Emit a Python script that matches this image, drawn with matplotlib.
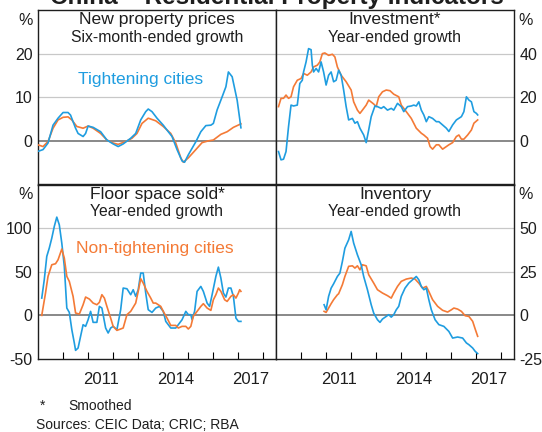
from matplotlib import pyplot as plt
import numpy as np

plt.rcParams['font.family'] = ['Liberation Sans', 'DejaVu Sans']

BLUE = '#1f9de0'
ORANGE = '#f47a36'

# New property prices, six-month-ended growth (%)
price_t_x = [2009.0, 2009.2, 2009.4, 2009.6, 2009.8, 2010.0, 2010.2, 2010.3, 2010.5, 2010.6,
             2010.8, 2010.9, 2011.0, 2011.2, 2011.5, 2011.75, 2012.0, 2012.2, 2012.4, 2012.7,
             2012.9, 2013.1, 2013.3, 2013.4, 2013.55, 2013.75, 2014.0, 2014.2, 2014.35, 2014.55,
             2014.75, 2014.85, 2015.0, 2015.3, 2015.5, 2015.7, 2015.9, 2016.0, 2016.15, 2016.35,
             2016.5, 2016.6, 2016.75, 2016.95, 2017.1]
price_t_y = [-2.4, -2.0, -0.5, 3.6, 5.2, 6.5, 6.5, 5.9, 2.9, 1.7,
             1.0, 1.7, 3.4, 3.1, 2.1, 0.2, -0.7, -1.3, -0.7, 0.6,
             1.7, 4.8, 6.7, 7.3, 6.7, 5.2, 3.6, 2.1, 1.0, -2.0,
             -4.6, -4.9, -3.2, -0.2, 2.1, 3.5, 3.6, 4.0, 7.1, 10.1,
             12.4, 15.8, 14.7, 9.3, 3.0]
price_n_x = [2009.0, 2009.2, 2009.4, 2009.6, 2009.8, 2010.0, 2010.2, 2010.35, 2010.55, 2010.8,
             2011.0, 2011.2, 2011.5, 2011.75, 2012.0, 2012.2, 2012.5, 2012.75, 2012.95, 2013.15,
             2013.4, 2013.7, 2014.0, 2014.3, 2014.5, 2014.7, 2014.8, 2015.0, 2015.3, 2015.55,
             2015.8, 2016.0, 2016.3, 2016.55, 2016.8, 2017.1]
price_n_y = [-0.9, -1.3, -0.15, 2.9, 4.8, 5.4, 5.5, 4.8, 3.3, 2.9,
             3.4, 2.9, 1.7, 0.2, -0.5, -0.8, -0.15, 0.6, 1.7, 4.0,
             5.2, 4.6, 3.3, 1.7, -0.5, -3.9, -4.9, -3.9, -2.0, -0.4,
             0.0, 0.2, 1.5, 2.1, 3.1, 3.9]

# Investment, year-ended growth (%)
inv_t_x = [2009.1, 2009.2, 2009.3, 2009.4, 2009.5, 2009.6, 2009.7, 2009.85, 2009.95, 2010.05,
           2010.1, 2010.2, 2010.3, 2010.4, 2010.45, 2010.5, 2010.6, 2010.7, 2010.8, 2010.9,
           2011.0, 2011.1, 2011.2, 2011.3, 2011.4, 2011.5, 2011.6, 2011.7, 2011.8, 2011.9,
           2012.05, 2012.15, 2012.25, 2012.35, 2012.5, 2012.6, 2012.7, 2012.8, 2012.95, 2013.05,
           2013.2, 2013.3, 2013.45, 2013.6, 2013.7, 2013.85, 2014.0, 2014.1, 2014.25, 2014.4,
           2014.5, 2014.6, 2014.7, 2014.8, 2014.9, 2015.0, 2015.1, 2015.25, 2015.4, 2015.5,
           2015.65, 2015.8, 2015.9, 2016.05, 2016.2, 2016.4, 2016.5, 2016.6, 2016.7, 2016.8,
           2016.9, 2017.0, 2017.05]
inv_t_y = [-4.9, -8.7, -8.4, -4.9, 6.5, 16.4, 16.0, 16.4, 26.3, 27.8,
           31.6, 36.2, 42.3, 41.8, 34.7, 31.6, 33.2, 31.6, 36.2, 31.6,
           25.6, 30.1, 31.6, 27.1, 27.8, 32.4, 30.1, 23.3, 15.7, 9.6,
           10.3, 8.1, 8.8, 5.8, 2.7, -0.8, 5.0, 11.1, 16.0, 15.7,
           14.9, 15.7, 14.1, 14.9, 14.1, 17.2, 15.7, 13.4, 15.7, 16.0,
           16.4, 16.0, 17.9, 14.1, 11.9, 8.8, 11.1, 10.3, 8.8, 8.8,
           7.3, 5.8, 4.3, 7.3, 9.6, 11.1, 13.4, 20.2, 18.7, 17.9,
           13.4, 12.6, 11.9]
inv_n_x = [2009.1, 2009.2, 2009.3, 2009.4, 2009.5, 2009.6, 2009.7, 2009.85, 2010.0, 2010.1,
           2010.25, 2010.4, 2010.5, 2010.65, 2010.75, 2010.85, 2010.95, 2011.1, 2011.25, 2011.35,
           2011.45, 2011.6, 2011.8, 2012.0, 2012.1, 2012.25, 2012.35, 2012.45, 2012.6, 2012.7,
           2012.9, 2013.0, 2013.1, 2013.25, 2013.4, 2013.55, 2013.7, 2013.9, 2014.0, 2014.2,
           2014.4, 2014.6, 2014.8, 2014.9, 2015.05, 2015.15, 2015.25, 2015.4, 2015.5, 2015.65,
           2015.8, 2015.9, 2016.05, 2016.2, 2016.3, 2016.4, 2016.5, 2016.65, 2016.8, 2016.9,
           2017.05]
inv_n_y = [15.7, 19.5, 19.5, 21.0, 19.5, 20.2, 24.8, 27.8, 28.6, 30.9,
           30.1, 31.6, 33.9, 34.7, 36.2, 40.0, 40.3, 39.2, 39.7, 38.5,
           33.9, 30.1, 27.1, 23.3, 17.9, 14.1, 12.6, 14.1, 16.4, 18.7,
           16.9, 15.7, 20.2, 22.5, 23.3, 23.0, 21.4, 20.2, 16.4, 13.4,
           10.3, 5.8, 3.5, 2.7, 1.2, -2.6, -3.8, -1.8, -1.8, -3.8,
           -2.6, -1.8, -0.8, 2.0, 2.7, 0.8, 0.8, 2.7, 5.0, 8.1,
           9.6]

# Floor space sold, year-ended growth (%)
floor_t_x = [2009.15, 2009.25, 2009.35, 2009.45, 2009.55, 2009.65, 2009.75, 2009.85, 2009.95, 2010.05,
             2010.15, 2010.25, 2010.35, 2010.45, 2010.5, 2010.6, 2010.7, 2010.8, 2010.9, 2011.0,
             2011.1, 2011.2, 2011.35, 2011.45, 2011.55, 2011.65, 2011.7, 2011.8, 2011.9, 2012.0,
             2012.15, 2012.3, 2012.4, 2012.55, 2012.7, 2012.8, 2012.9, 2013.0, 2013.1, 2013.2,
             2013.3, 2013.4, 2013.55, 2013.7, 2013.85, 2014.0, 2014.1, 2014.3, 2014.5, 2014.6,
             2014.75, 2014.9, 2015.0, 2015.1, 2015.15, 2015.25, 2015.35, 2015.5, 2015.6, 2015.75,
             2015.85, 2015.95, 2016.1, 2016.2, 2016.3, 2016.4, 2016.5, 2016.6, 2016.7, 2016.8,
             2016.9, 2017.0, 2017.1]
floor_t_y = [19.8, 40.8, 67.6, 77.1, 88.5, 101.9, 112.6, 103.8, 82.8, 56.1,
             8.4, 3.4, -16.4, -31.7, -40.1, -37.4, -24.0, -10.7, -12.6, -5.0,
             4.6, -8.0, -8.0, 10.3, 8.4, -6.9, -14.5, -20.2, -14.5, -12.6,
             -16.4, 6.5, 31.3, 30.5, 23.7, 29.4, 21.8, 29.4, 48.5, 48.5,
             25.6, 6.5, 3.4, 8.4, 10.3, 4.6, -6.9, -14.5, -14.5, -10.7,
             -5.0, 4.6, 0.8, 0.8, -5.0, 4.6, 27.5, 33.2, 27.5, 14.1,
             10.3, 23.7, 44.7, 55.3, 42.7, 25.6, 21.0, 31.3, 31.3, 21.8,
             -3.1, -6.9, -6.9]
floor_n_x = [2009.15, 2009.3, 2009.4, 2009.55, 2009.7, 2009.8, 2009.95, 2010.05, 2010.15, 2010.25,
             2010.4, 2010.5, 2010.65, 2010.8, 2010.9, 2011.05, 2011.2, 2011.35, 2011.45, 2011.55,
             2011.65, 2011.75, 2011.9, 2012.0, 2012.15, 2012.3, 2012.4, 2012.55, 2012.7, 2012.9,
             2013.0, 2013.1, 2013.2, 2013.35, 2013.5, 2013.6, 2013.7, 2013.9, 2014.0, 2014.15,
             2014.3, 2014.5, 2014.6, 2014.75, 2014.9, 2015.0, 2015.1, 2015.2, 2015.35, 2015.5,
             2015.6, 2015.75, 2015.9, 2016.0, 2016.1, 2016.2, 2016.3, 2016.45, 2016.55, 2016.7,
             2016.8, 2016.9, 2017.0, 2017.05, 2017.1]
floor_n_y = [0.0, 25.6, 44.7, 58.0, 59.2, 63.7, 76.0, 65.6, 44.7, 38.9,
             21.8, 2.7, 1.5, 12.2, 21.0, 18.7, 14.1, 12.2, 14.9, 23.7,
             19.8, 10.3, -3.1, -12.6, -17.2, -15.6, -14.5, 0.8, 4.6, 14.1,
             27.5, 42.0, 37.0, 27.5, 19.8, 14.1, 14.1, 10.3, 4.6, -3.1,
             -11.5, -11.5, -14.5, -12.6, -12.6, -15.6, -12.6, -1.1, 4.6, 10.3,
             13.4, 8.4, 5.7, 17.9, 23.7, 31.3, 27.5, 17.9, 16.0, 21.8,
             23.7, 19.8, 25.6, 29.4, 27.5]

# Inventory, year-ended growth (%)
stock_t_x = [2010.92, 2011.0, 2011.1, 2011.2, 2011.3, 2011.45, 2011.55, 2011.65, 2011.75, 2011.9,
             2012.0, 2012.1, 2012.25, 2012.4, 2012.5, 2012.65, 2012.8, 2012.9, 2013.05, 2013.15,
             2013.25, 2013.4, 2013.5, 2013.6, 2013.7, 2013.8, 2013.9, 2014.0, 2014.15, 2014.3,
             2014.45, 2014.6, 2014.7, 2014.8, 2014.9, 2015.0, 2015.1, 2015.2, 2015.35, 2015.5,
             2015.7, 2015.9, 2016.05, 2016.25, 2016.45, 2016.6, 2016.7, 2016.85, 2016.95, 2017.05]
stock_t_y = [6.1, 3.2, 10.9, 15.6, 18.1, 22.3, 24.2, 30.9, 38.5, 43.3,
             48.1, 41.4, 34.7, 29.0, 22.3, 14.7, 6.1, 1.3, -2.5, -4.0,
             -2.1, -0.6, 0.4, -1.0, 0.4, 3.2, 5.2, 10.9, 15.6, 18.5,
             20.4, 22.3, 20.4, 16.6, 14.7, 15.6, 9.0, 3.2, -2.5, -5.3,
             -6.3, -9.2, -13.0, -12.4, -13.0, -15.8, -16.8, -18.7, -20.6, -21.9]
stock_n_x = [2010.92, 2011.0, 2011.1, 2011.2, 2011.3, 2011.45, 2011.5, 2011.65, 2011.75, 2011.9,
             2012.05, 2012.15, 2012.25, 2012.35, 2012.45, 2012.6, 2012.7, 2012.9, 2013.05, 2013.25,
             2013.45, 2013.6, 2013.7, 2013.85, 2014.0, 2014.2, 2014.4, 2014.55, 2014.7, 2014.85,
             2015.0, 2015.1, 2015.25, 2015.45, 2015.65, 2015.85, 2016.0, 2016.1, 2016.25, 2016.4,
             2016.55, 2016.7, 2016.85, 2016.95, 2017.05]
stock_n_y = [2.3, 1.7, 4.2, 6.7, 9.0, 11.8, 12.4, 17.6, 22.3, 28.1,
             28.4, 27.1, 28.4, 26.1, 29.0, 28.4, 23.3, 18.5, 14.7, 12.8,
             11.3, 9.9, 12.8, 16.6, 19.5, 20.8, 21.4, 20.8, 18.5, 15.6,
             16.6, 13.7, 9.0, 5.2, 2.9, 1.9, 3.2, 4.2, 3.6, 2.3,
             -0.2, -0.6, -3.4, -7.8, -12.0]

year_labels = ['2011', '2014', '2017']
INK = '#1e1e1e'


def setupPanel(ax, title, subtitle, ylim, ticks, side, bottom_row):
    ax.set_xlim(2009, 2018.5)
    ax.set_ylim(ylim)
    for v in ticks:
        if v == 0:
            ax.axhline(0, color='#7f7f7f', lw=1.3, zorder=1)
        elif ylim[0] < v < ylim[1]:
            ax.axhline(v, color='#c8c8c8', lw=0.9, zorder=0)
    ax.set_yticks(ticks)
    ax.set_yticklabels([str(v) for v in ticks])
    ax.tick_params(axis='y', length=0, labelsize=11.5, pad=4, colors=INK,
                   left=(side == 'left'), labelleft=(side == 'left'),
                   right=(side == 'right'), labelright=(side == 'right'))
    if side == 'left':
        ax.text(-0.02, 0.985, '%', transform=ax.transAxes, ha='right', va='top',
                fontsize=11.5, color=INK)
    else:
        ax.text(1.02, 0.985, '%', transform=ax.transAxes, ha='left', va='top',
                fontsize=11.5, color=INK)
    if bottom_row:
        ax.set_xticks(np.arange(2010, 2019))
        ax.set_xticklabels([])
        ax.set_xticks([2011.5, 2014.5, 2017.5], minor=True)
        ax.set_xticklabels(year_labels, minor=True)
        ax.tick_params(axis='x', which='major', direction='in', length=5, width=0.8)
        ax.tick_params(axis='x', which='minor', length=0, labelsize=12, pad=9, colors=INK)
    else:
        ax.set_xticks([])
    for s in ax.spines.values():
        s.set_color(INK)
        s.set_linewidth(1.0)
    ax.text(0.5, 0.945, title, transform=ax.transAxes, ha='center', va='center',
            fontsize=12.6, color=INK)
    ax.text(0.5, 0.845, subtitle, transform=ax.transAxes, ha='center', va='center',
            fontsize=11.3, color=INK)


if __name__ == '__main__':
    fig = plt.figure(figsize=(5.42, 4.32), dpi=100)
    axs = fig.subplots(2, 2)
    fig.subplots_adjust(left=38/542, right=514/542, top=1-10/432, bottom=1-359/432,
                        wspace=0, hspace=0)

    ax = axs[0, 0]
    setupPanel(ax, 'New property prices', 'Six-month-ended growth', (-10, 30), [0, 10, 20], 'left', False)
    ax.plot(price_n_x, price_n_y, color=ORANGE, lw=1.2, zorder=3)
    ax.plot(price_t_x, price_t_y, color=BLUE, lw=1.2, zorder=4)
    ax.text(2013.08, 14.1, 'Tightening cities', color=BLUE, fontsize=12.5, ha='center', va='center')

    ax = axs[0, 1]
    setupPanel(ax, 'Investment*', 'Year-ended growth', (-20, 60), [0, 20, 40], 'right', False)
    ax.plot(inv_n_x, inv_n_y, color=ORANGE, lw=1.2, zorder=3)
    ax.plot(inv_t_x, inv_t_y, color=BLUE, lw=1.2, zorder=4)

    ax = axs[1, 0]
    setupPanel(ax, 'Floor space sold*', 'Year-ended growth', (-50, 150), [-50, 0, 50, 100], 'left', True)
    ax.plot(floor_t_x, floor_t_y, color=BLUE, lw=1.2, zorder=3)
    ax.plot(floor_n_x, floor_n_y, color=ORANGE, lw=1.2, zorder=4)
    ax.text(2013.67, 76.3, 'Non-tightening cities', color=ORANGE, fontsize=12.5, ha='center', va='center')

    ax = axs[1, 1]
    setupPanel(ax, 'Inventory', 'Year-ended growth', (-25, 75), [-25, 0, 25, 50], 'right', True)
    ax.plot(stock_n_x, stock_n_y, color=ORANGE, lw=1.2, zorder=3)
    ax.plot(stock_t_x, stock_t_y, color=BLUE, lw=1.2, zorder=4)

    fig.text(277/542, 1 - 4/432, 'China \u2013 Residential Property Indicators', ha='center',
             va='baseline', fontsize=17.5, fontweight='bold', color=INK)
    fig.text(40/542, 1 - 406/432, '*', ha='left', va='center', fontsize=10, color=INK)
    fig.text(68/542, 1 - 406/432, 'Smoothed', ha='left', va='center', fontsize=10, color=INK)
    fig.text(36/542, 1 - 425/432, 'Sources: CEIC Data; CRIC; RBA', ha='left', va='center',
             fontsize=10, color=INK)

    fig.savefig('out.png', dpi=100)
